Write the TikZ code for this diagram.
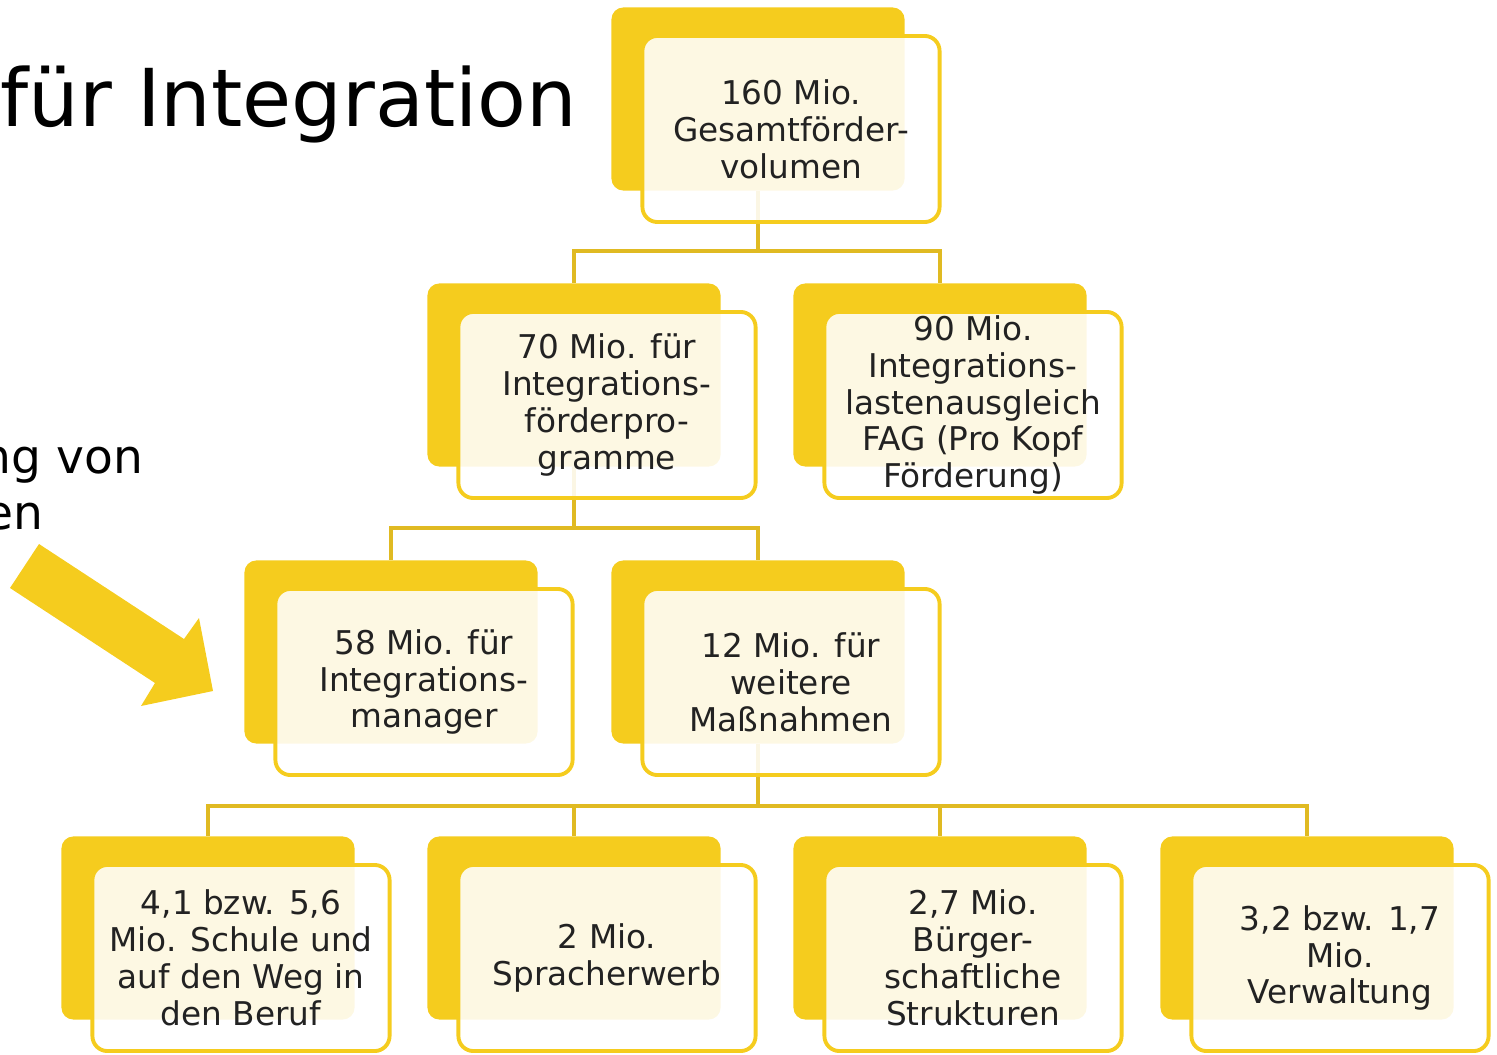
\documentclass[tikz,border=0pt]{standalone}
\usepackage{fontspec}
\setmainfont{DejaVu Sans}
\usepackage{tikz}
\usetikzlibrary{positioning}
\definecolor{BoxYellow}{HTML}{F5CC1E}
\definecolor{LineGold}{HTML}{E0BA22}
\definecolor{TextGray}{HTML}{222222}

\begin{document}
\begin{tikzpicture}[x=0.01cm, y=-0.01cm,
    backbox/.style={fill=BoxYellow, rounded corners=0.12cm, minimum width=2.93cm, minimum height=1.83cm, inner sep=0pt},
    frontbox/.style={draw=BoxYellow, line width=1.1pt, fill=white, fill opacity=0.88, text opacity=1, rounded corners=0.15cm, minimum width=2.97cm, minimum height=1.86cm, inner sep=0pt, align=center, text=TextGray, font=\fontsize{9.3}{10.5}\selectfont},
    conn/.style={draw=LineGold, line width=1.1pt}]
        \useasboundingbox (0,0) rectangle (1497,1055);
        \clip (0,0) rectangle (1497,1055);

        % Titel und Hinweis links (angeschnitten)
        \node[anchor=base east, inner sep=0pt, font=\fontsize{22.7}{26}\selectfont] (title) at (578,127) {für Integration};
        \node[anchor=base east, inner sep=0pt, font=\fontsize{13.4}{16}\selectfont] (hint1) at (144,473) {ng von};
        \node[anchor=base east, inner sep=0pt, font=\fontsize{13.4}{16}\selectfont] (hint2) at (44,529) {en};

        % Pfeil
        \fill[BoxYellow] (39,544) -- (184,639) -- (199,618) -- (213,691) -- (141,706) -- (155,683) -- (10,588) -- cycle;

        % Hintere Boxen (gelb)
        \node[backbox] (b1) at (758,99) {};
        \node[backbox] (b2a) at (574,375) {};
        \node[backbox] (b2b) at (940,375) {};
        \node[backbox] (b3a) at (391,652) {};
        \node[backbox] (b3b) at (758,652) {};
        \node[backbox] (b4a) at (208,928) {};
        \node[backbox] (b4b) at (574,928) {};
        \node[backbox] (b4c) at (940,928) {};
        \node[backbox] (b4d) at (1307,928) {};

        % Verbindungen
        \draw[conn] (b1.south) -- ++(0,60) -| (b2a.north);
        \draw[conn] (b1.south) -- ++(0,60) -| (b2b.north);
        \draw[conn] (b2a.south) -- ++(0,61) -| (b3a.north);
        \draw[conn] (b2a.south) -- ++(0,61) -| (b3b.north);
        \draw[conn] (b3b.south) -- ++(0,62) -| (b4a.north);
        \draw[conn] (b3b.south) -- ++(0,62) -| (b4b.north);
        \draw[conn] (b3b.south) -- ++(0,62) -| (b4c.north);
        \draw[conn] (b3b.south) -- ++(0,62) -| (b4d.north);

        % Vordere Boxen mit Text
        \node[frontbox] (f1) at ([shift={(33,30)}]b1.center) {160 Mio.\\Gesamtförder-\\volumen};
        \node[frontbox] (f2a) at ([shift={(33,30)}]b2a.center) {70 Mio. für\\Integrations-\\förderpro-\\gramme};
        \node[frontbox] (f2b) at ([shift={(33,30)}]b2b.center) {90 Mio.\\Integrations-\\lastenausgleich\\FAG (Pro Kopf\\Förderung)};
        \node[frontbox] (f3a) at ([shift={(33,30)}]b3a.center) {58 Mio. für\\Integrations-\\manager};
        \node[frontbox] (f3b) at ([shift={(33,30)}]b3b.center) {12 Mio. für\\weitere\\Maßnahmen};
        \node[frontbox] (f4a) at ([shift={(33,30)}]b4a.center) {4,1 bzw. 5,6\\Mio. Schule und\\auf den Weg in\\den Beruf};
        \node[frontbox] (f4b) at ([shift={(33,30)}]b4b.center) {2 Mio.\\Spracherwerb};
        \node[frontbox] (f4c) at ([shift={(33,30)}]b4c.center) {2,7 Mio.\\Bürger-\\schaftliche\\Strukturen};
        \node[frontbox] (f4d) at ([shift={(33,30)}]b4d.center) {3,2 bzw. 1,7\\Mio.\\Verwaltung};
    \end{tikzpicture}
\end{document}
